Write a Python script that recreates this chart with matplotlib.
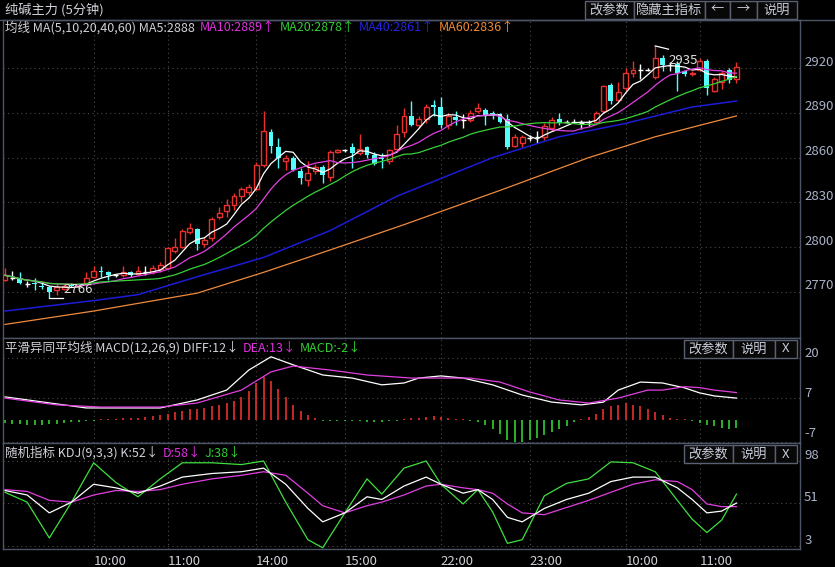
import matplotlib
matplotlib.use('Agg')
import matplotlib.pyplot as plt
import matplotlib.transforms as mtrans
from matplotlib.patches import Rectangle
import numpy as np
import pandas as pd

plt.rcParams['font.family'] = ['Noto Sans CJK SC', 'DejaVu Sans']

# 5分钟K线 (开 高 低 收)
opens = [2778, 2779, 2779, 2775, 2776, 2774, 2773, 2771, 2772, 2775,
         2774, 2776, 2780, 2784, 2783, 2781, 2781, 2783, 2782, 2783,
         2783, 2785, 2786, 2797, 2800, 2810, 2812, 2802, 2806, 2820,
         2824, 2828, 2834, 2837, 2839, 2855, 2877, 2867, 2858, 2860,
         2851, 2845, 2851, 2854, 2847, 2864, 2865, 2867, 2863, 2867,
         2862, 2860, 2858, 2866, 2877, 2888, 2882, 2886, 2895, 2894,
         2882, 2887, 2885, 2885, 2891, 2892, 2890, 2889, 2886, 2868,
         2870, 2873, 2874, 2874, 2880, 2886, 2884, 2884, 2883, 2884,
         2884, 2891, 2909, 2899, 2907, 2917, 2919, 2919, 2914, 2927,
         2922, 2923, 2918, 2916, 2919, 2925, 2905, 2911, 2919, 2913]
highs = [2786, 2784, 2783, 2777, 2779, 2776, 2774, 2775, 2775, 2776,
         2776, 2783, 2787, 2787, 2784, 2782, 2787, 2784, 2787, 2787,
         2788, 2790, 2800, 2806, 2812, 2816, 2813, 2807, 2820, 2827,
         2832, 2836, 2840, 2842, 2857, 2891, 2879, 2873, 2862, 2861,
         2853, 2858, 2856, 2855, 2865, 2866, 2866, 2870, 2876, 2868,
         2864, 2863, 2866, 2882, 2893, 2898, 2888, 2896, 2899, 2901,
         2890, 2891, 2889, 2892, 2897, 2893, 2891, 2890, 2889, 2876,
         2875, 2875, 2878, 2883, 2887, 2890, 2885, 2886, 2885, 2885,
         2891, 2909, 2910, 2911, 2920, 2925, 2923, 2920, 2935, 2929,
         2924, 2925, 2918, 2918, 2927, 2926, 2914, 2918, 2920, 2924]
lows = [2777, 2778, 2775, 2773, 2771, 2772, 2766, 2768, 2771, 2773,
        2773, 2775, 2779, 2780, 2778, 2780, 2780, 2780, 2781, 2781,
        2782, 2783, 2785, 2796, 2799, 2809, 2798, 2800, 2804, 2819,
        2820, 2825, 2830, 2835, 2838, 2854, 2863, 2853, 2852, 2851,
        2842, 2841, 2849, 2843, 2844, 2863, 2864, 2853, 2862, 2860,
        2855, 2853, 2856, 2864, 2874, 2881, 2880, 2883, 2888, 2880,
        2879, 2882, 2880, 2884, 2890, 2882, 2886, 2883, 2866, 2867,
        2867, 2871, 2870, 2872, 2878, 2882, 2883, 2883, 2879, 2881,
        2883, 2890, 2896, 2898, 2905, 2914, 2913, 2918, 2913, 2918,
        2918, 2905, 2915, 2915, 2918, 2902, 2904, 2906, 2910, 2910]
closes = [2781, 2779, 2776, 2775, 2775, 2773, 2770, 2773, 2774, 2774,
          2775, 2779, 2784, 2783, 2781, 2781, 2783, 2781, 2784, 2783,
          2786, 2788, 2799, 2800, 2811, 2813, 2802, 2805, 2819, 2823,
          2828, 2834, 2839, 2840, 2855, 2878, 2868, 2860, 2860, 2852,
          2846, 2850, 2854, 2848, 2864, 2865, 2865, 2863, 2866, 2862,
          2856, 2859, 2865, 2876, 2888, 2882, 2886, 2894, 2894, 2882,
          2888, 2885, 2885, 2890, 2893, 2888, 2888, 2884, 2867, 2874,
          2874, 2873, 2874, 2881, 2885, 2883, 2884, 2884, 2883, 2884,
          2890, 2908, 2898, 2904, 2917, 2919, 2919, 2919, 2927, 2922,
          2922, 2917, 2916, 2917, 2925, 2907, 2913, 2917, 2912, 2921]

# 长周期均线 (读图取点)
ma40_idx = [0, 12, 18, 26, 35, 44, 53, 60, 66, 75, 84, 93, 99]
ma40_val = [2757, 2764, 2768, 2780, 2793, 2811, 2834, 2848, 2860, 2874, 2883, 2894, 2898]
ma60_idx = [0, 12, 26, 35, 44, 54, 67, 79, 88, 99]
ma60_val = [2748, 2757, 2769, 2783, 2798, 2815, 2838, 2860, 2874, 2888]

time_idx = [12, 22, 34, 46, 59, 71, 84, 94]
time_lbl = ['10:00', '11:00', '14:00', '15:00', '22:00', '23:00', '10:00', '11:00']
price_ticks = [2770, 2800, 2830, 2860, 2890, 2920]

# MACD
diff_idx = [0, 11, 21, 26, 30, 33, 36, 39, 43, 47, 51, 54, 56, 59, 62, 66, 70, 74, 78, 81, 83, 86, 89, 92, 94, 96, 99]
diff_val = [7.5, 3.9, 3.9, 6.5, 9.7, 16.2, 20.5, 17.9, 14.6, 13.6, 11.4, 12.0, 13.6, 14.3, 13.6,
            11.4, 8.1, 5.8, 4.9, 5.8, 9.7, 12.3, 12.0, 10.4, 8.8, 7.8, 7.1]
dea_idx = [0, 7, 13, 21, 26, 32, 36, 39, 44, 49, 55, 59, 63, 67, 71, 75, 79, 83, 87, 89, 92, 94, 96, 99]
dea_val = [7.1, 4.9, 4.2, 4.2, 5.5, 9.7, 15.6, 17.5, 16.2, 14.6, 13.6, 13.6, 13.6, 12.3, 9.1,
           6.5, 5.5, 7.1, 9.7, 9.7, 10.8, 10.5, 9.7, 8.9]
macd_hist = [-1.0, -1.2, -1.4, -1.5, -1.5, -1.5, -1.4, -1.2, -1.0, -0.8,
             -0.5, -0.3, -0.2, 0.2, 0.3, 0.4, 0.5, 0.6, 0.8, 1.0,
             1.2, 1.5, 2.0, 2.5, 3.0, 3.4, 3.6, 4.0, 4.5, 5.0,
             5.5, 6.2, 7.5, 9.5, 12.0, 14.0, 12.5, 10.0, 7.5, 5.0,
             3.0, 1.5, 0.5, -0.3, -0.3, -0.2, -0.2, -0.3, -0.4, -0.5,
             -0.6, -0.5, -0.3, -0.2, 0.2, 0.5, 0.8, 1.0, 1.2, 1.0,
             0.6, 0.3, 0.2, -0.3, -0.6, -1.5, -3.0, -4.5, -6.5, -7.0,
             -7.0, -6.5, -6.0, -5.0, -4.0, -3.0, -1.8, -0.8, 0.3, 1.0,
             2.0, 3.5, 4.5, 5.0, 5.5, 5.0, 4.5, 3.5, 2.5, 1.5,
             0.5, 0.2, 0.2, -0.3, -1.0, -1.5, -2.0, -2.6, -2.8, -2.6]

# KDJ
kdj_idx = [0, 3, 6, 9, 12, 15, 18, 21, 24, 28, 32, 35, 38, 41, 43, 46, 49, 51,
           54, 57, 59, 62, 64, 66, 68, 70, 73, 76, 79, 82, 85, 88, 91, 93, 95, 97, 99]
k_val = [65, 60, 40, 52, 72, 68, 62, 70, 80, 84, 86, 90, 72, 45, 30, 40, 58, 55,
         70, 80, 72, 62, 66, 55, 35, 30, 45, 55, 62, 75, 80, 80, 68, 55, 40, 42, 51]
d_val = [66, 64, 54, 52, 60, 65, 64, 66, 72, 78, 82, 86, 82, 62, 48, 40, 48, 52,
         60, 70, 72, 68, 66, 62, 50, 40, 38, 46, 54, 63, 72, 77, 75, 66, 50, 47, 47]
j_val = [63, 52, 12, 52, 96, 74, 58, 78, 96, 96, 94, 98, 52, 10, 1, 40, 78, 61,
         90, 98, 72, 50, 66, 41, 6, 10, 59, 73, 78, 97, 96, 86, 54, 33, 18, 32, 61]

W, H = 835, 567
BG = 'black'
RED = '#e8302c'
CYAN = '#54fcfc'
GRID = '#4a4a4a'
FRAME = '#4c5466'
TXT = '#d0d0d8'
AXT = '#aab2c8'
FS = 9

fig = plt.figure(figsize=(W / 100, H / 100), dpi=100, facecolor=BG)
renderer = fig.canvas.get_renderer()


def px_axes(x0, y0, x1, y1):
    a = fig.add_axes([x0 / W, 1 - y1 / H, (x1 - x0) / W, (y1 - y0) / H])
    a.set_facecolor(BG)
    for s in a.spines.values():
        s.set_color(FRAME)
        s.set_linewidth(1)
    a.set_xlim(-0.27, 107.6)
    a.tick_params(left=False, right=False, bottom=False, labelleft=False, labelbottom=False)
    return a


def ftxt(x, y, s, color=TXT, size=FS, **kw):
    t = fig.text(x / W, 1 - y / H, s, color=color, fontsize=size, va='center', ha='left', **kw)
    return t.get_window_extent(renderer).x1


def header(y, parts):
    # parts: (x, text, color); keep each piece after the previous one
    end = 0
    for x0, s, col in parts:
        end = ftxt(max(x0, end + 4), y, s, color=col)


def button(x0, y0, x1, y1, s):
    fig.patches.append(Rectangle((x0 / W, 1 - y1 / H), (x1 - x0) / W, (y1 - y0) / H,
                                 transform=fig.transFigure, facecolor='#080808',
                                 edgecolor='#5a6072', lw=1))
    fig.text((x0 + x1) / 2 / W, 1 - (y0 + y1) / 2 / H, s, color='#c8ccd8', fontsize=9.5,
             ha='center', va='center')


def right_labels(a, vals, dy=4.3):
    bl = mtrans.blended_transform_factory(a.transAxes, a.transData)
    for v in vals:
        a.annotate(str(v), xy=(1, v), xycoords=bl, xytext=(3, dy), textcoords='offset points',
                   color=AXT, fontsize=9.5, va='center', ha='left', annotation_clip=False)


def grids(a, yvals):
    for v in yvals:
        a.axhline(v, color=GRID, ls=(0, (1, 3)), lw=0.8, zorder=0)
    for t in time_idx:
        a.axvline(t, color=GRID, ls=(0, (1, 3)), lw=0.8, zorder=0)


# ---------------- 主图 ----------------
ax = px_axes(3, 20, 800, 338)
ax.set_ylim(2738.9, 2952.4)
grids(ax, price_ticks)
right_labels(ax, price_ticks)

o = np.array(opens, float)
h = np.array(highs, float)
l = np.array(lows, float)
c = np.array(closes, float)
x = np.arange(len(c))
up = c > o
dn = c < o
eq = c == o
bw = 0.66

ax.vlines(x[up], l[up], h[up], color=RED, lw=1, zorder=2)
ax.bar(x[up], c[up] - o[up], bottom=o[up], width=bw, facecolor=BG, edgecolor=RED, lw=1, zorder=3)
ax.vlines(x[dn], l[dn], h[dn], color=CYAN, lw=1, zorder=2)
ax.bar(x[dn], o[dn] - c[dn], bottom=c[dn], width=bw, color=CYAN, lw=0, zorder=3)
ax.vlines(x[eq], l[eq], h[eq], color='white', lw=1, zorder=2)
ax.hlines(c[eq], x[eq] - bw / 2, x[eq] + bw / 2, color='white', lw=1, zorder=3)

cs = pd.Series(c)
ma5 = cs.rolling(5, min_periods=1).mean()
ma10 = cs.rolling(10, min_periods=1).mean()
ma20 = cs.rolling(20, min_periods=1).mean()
ax.plot(x, ma5, color='white', lw=0.9, zorder=5)
ax.plot(x, ma10, color='#e040e0', lw=0.9, zorder=5)
ax.plot(x, ma20, color='#38d038', lw=0.9, zorder=5)
ax.plot(ma40_idx, ma40_val, color='#1c1cd8', lw=1.1, zorder=5)
ax.plot(ma60_idx, ma60_val, color='#f08a3c', lw=0.9, zorder=5)

# 最高 / 最低 标记
imax = int(np.argmax(h))
imin = int(np.argmin(l))
ax.plot([imax, imax + 1.8], [h[imax], h[imax] - 2.2], color='white', lw=0.9, zorder=6)
ax.text(imax + 1.8, h[imax] - 9.5, '%d' % h[imax], color='#e0e0e0', fontsize=9.5,
        ha='left', va='center', zorder=6)
ax.plot([imin, imin + 1.9], [l[imin], l[imin]], color='white', lw=0.9, zorder=6)
ax.text(imin + 1.9, l[imin] + 5.5, '%d' % l[imin], color='#e0e0e0', fontsize=9.5,
        ha='left', va='center', zorder=6)

# ---------------- MACD ----------------
ax2 = px_axes(3, 338, 800, 443)
ax2.set_ylim(-7.47, 26.6)
grids(ax2, [20, 7, -7])
right_labels(ax2, [20, 7], dy=3.5)
right_labels(ax2, [-7], dy=6)
hist = np.array(macd_hist)
xi = np.arange(len(hist))
ax2.vlines(xi[hist > 0], 0, hist[hist > 0], color=RED, lw=1.2)
ax2.vlines(xi[hist <= 0], hist[hist <= 0], 0, color='#30d030', lw=1.2)
ax2.plot(diff_idx, diff_val, color='white', lw=0.9)
ax2.plot(dea_idx, dea_val, color='#e040e0', lw=0.9)

# ---------------- KDJ ----------------
ax3 = px_axes(3, 443, 800, 549)
ax3.set_ylim(-0.35, 118.1)
grids(ax3, [98, 51, 3])
right_labels(ax3, [98, 51, 3], dy=3.8)
ax3.plot(kdj_idx, j_val, color='#40e040', lw=0.9)
ax3.plot(kdj_idx, d_val, color='#e040e0', lw=0.9)
ax3.plot(kdj_idx, k_val, color='white', lw=0.9)
ax3.set_xticks(time_idx)
ax3.set_xticklabels(time_lbl)
ax3.tick_params(bottom=False, labelbottom=True, labelsize=9.5, labelcolor=TXT, pad=1)
for t in ax3.get_xticklabels():
    t.set_ha('left')

# ---------------- 文字 ----------------
fig.add_artist(plt.Line2D([0, 1], [1 - 20 / H, 1 - 20 / H], color=FRAME, lw=1))
ftxt(5, 10, '纯碱主力 (5分钟)', size=9.5)
header(28, [(5, '均线 MA(5,10,20,40,60) MA5:2888', TXT),
            (200, 'MA10:2889↑', '#e030e0'),
            (273, 'MA20:2878↑', '#30d030'),
            (347, 'MA40:2861↑', '#2424e0'),
            (433, 'MA60:2836↑', '#f08a30')])

button(585, 1, 634, 19, '改参数')
button(634, 1, 705, 19, '隐藏主指标')
button(705, 1, 730, 19, '←')
button(730, 1, 757, 19, '→')
button(757, 1, 797, 19, '说明')

header(348, [(5, '平滑异同平均线 MACD(12,26,9) DIFF:12↓', TXT),
             (238, 'DEA:13↓', '#e030e0'),
             (290, 'MACD:-2↓', '#30d030')])
button(684, 340, 733, 358, '改参数')
button(733, 340, 775, 358, '说明')
button(775, 340, 797, 358, 'X')

header(453, [(5, '随机指标 KDJ(9,3,3) K:52↓', TXT),
             (157, 'D:58↓', '#e030e0'),
             (194, 'J:38↓', '#30d030')])
button(684, 445, 733, 463, '改参数')
button(733, 445, 775, 463, '说明')
button(775, 445, 797, 463, 'X')

fig.savefig('out.png', dpi=100, facecolor=BG)
